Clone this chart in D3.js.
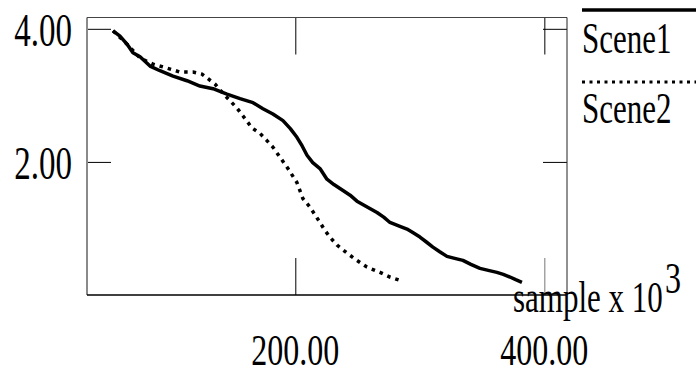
<!DOCTYPE html>
<html>
<head>
<meta charset="utf-8">
<script src="https://cdn.jsdelivr.net/npm/d3@7"></script>
<style>
  html, body { margin: 0; padding: 0; background: #fff; }
  svg { display: block; }
  text { font-family: "Liberation Serif", "Times New Roman", serif; fill: #000; }
</style>
</head>
<body>
<svg id="chart" width="696" height="379"></svg>
<script>
// Sample index (thousands) and measured value for each scene
const scene1X = [53.6, 59.2, 64.8, 69.6, 75.3, 83.3, 91.3, 101.8, 113.0, 123.4, 133.9, 145.1, 155.6, 166.0, 174.0, 182.0, 190.1, 196.0, 201.3, 205.5, 209.4, 214.0, 219.8, 225.4, 231.0, 238.3, 244.0, 249.5, 257.0, 265.6, 271.0, 276.0, 283.0, 289.7, 295.0, 300.1, 305.0, 310.5, 316.0, 321.8, 328.0, 334.6, 341.0, 348.3, 355.0, 361.9, 367.0, 372.4, 377.0, 382.0];
const scene1Y = [3.97, 3.89, 3.77, 3.64, 3.58, 3.44, 3.37, 3.29, 3.22, 3.14, 3.10, 3.02, 2.95, 2.89, 2.80, 2.72, 2.62, 2.50, 2.37, 2.24, 2.10, 1.99, 1.90, 1.74, 1.66, 1.57, 1.50, 1.41, 1.33, 1.24, 1.17, 1.09, 1.04, 0.99, 0.93, 0.87, 0.80, 0.72, 0.65, 0.58, 0.55, 0.52, 0.46, 0.40, 0.37, 0.34, 0.31, 0.27, 0.23, 0.19];

const scene2X = [53.6, 64.8, 75.3, 85.7, 96.9, 107.4, 117.8, 125.0, 129.9, 135.5, 139.5, 147.5, 153.1, 158.0, 165.2, 171.6, 177.2, 182.1, 187.7, 194.1, 201.3, 206.1, 211.8, 219.8, 223.8, 227.8, 233.5, 241.5, 249.5, 257.5, 268.0, 276.0, 285.6];
const scene2Y = [3.97, 3.77, 3.56, 3.47, 3.41, 3.35, 3.35, 3.32, 3.25, 3.17, 3.08, 2.92, 2.81, 2.69, 2.51, 2.43, 2.32, 2.22, 2.07, 1.90, 1.69, 1.45, 1.32, 1.09, 0.97, 0.87, 0.75, 0.63, 0.52, 0.42, 0.34, 0.27, 0.21];

const xTicks = [200, 400];
const yTicks = [2, 4];
const seriesNames = ["Scene1", "Scene2"];
const xTitle = "sample x 10";
const xTitleExp = "3";

const svg = d3.select("#chart");
const plotLeft = 87, plotRight = 567, plotTop = 17.5, plotBottom = 295;

const x = d3.scaleLinear().domain([32.7, 418.2]).range([plotLeft, plotRight]);
const y = d3.scaleLinear().domain([0, 4.17]).range([plotBottom, plotTop]);
const fmt = d3.format(".2f");

// Tall narrow serif lettering
const STRETCH = 1.4;
function label(txt, px, py, anchor, size) {
  return svg.append("text")
    .attr("transform", `translate(${px},${py}) scale(1,${STRETCH})`)
    .attr("text-anchor", anchor)
    .style("font-size", size + "px")
    .text(txt);
}

// Ticks drawn inward from every side of the frame
function tickAxis(axis, tx, ty, color) {
  const g = svg.append("g").attr("transform", `translate(${tx},${ty})`).call(axis);
  g.select(".domain").remove();
  g.selectAll("text").remove();
  g.selectAll("line").attr("stroke", color).attr("stroke-width", 1);
  return g;
}
tickAxis(d3.axisLeft(y).tickValues(yTicks).tickSize(-24), plotLeft, 0, "#000");
tickAxis(d3.axisRight(y).tickValues(yTicks).tickSize(-24), plotRight, 0, "#000");
tickAxis(d3.axisTop(x).tickValues(xTicks).tickSize(-37), 0, plotTop, "#000");
const bx = tickAxis(d3.axisBottom(x).tickValues(xTicks).tickSize(-37), 0, plotBottom, "#000");
bx.selectAll("line").attr("stroke", (d) => d === 400 ? "#777" : "#000");

// Frame
svg.append("line").attr("x1", plotLeft).attr("x2", plotLeft).attr("y1", plotTop).attr("y2", plotBottom)
  .attr("stroke", "#8a8a8a").attr("stroke-width", 2);
svg.append("line").attr("x1", plotLeft).attr("x2", plotRight).attr("y1", plotTop).attr("y2", plotTop)
  .attr("stroke", "#444").attr("stroke-width", 1);
svg.append("line").attr("x1", plotRight).attr("x2", plotRight).attr("y1", plotTop).attr("y2", plotBottom)
  .attr("stroke", "#222").attr("stroke-width", 1);
svg.append("line").attr("x1", plotLeft).attr("x2", plotRight).attr("y1", plotBottom).attr("y2", plotBottom)
  .attr("stroke", "#000").attr("stroke-width", 1.5);

// Curves
const line = d3.line().x(d => x(d[0])).y(d => y(d[1]));
const s1 = scene1X.map((v, i) => [v, scene1Y[i]]);
const s2 = scene2X.map((v, i) => [v, scene2Y[i]]);
svg.append("path").datum(s2).attr("d", line)
  .attr("fill", "none").attr("stroke", "#000").attr("stroke-width", 3.5)
  .attr("stroke-dasharray", "3.5,5");
svg.append("path").datum(s1).attr("d", line)
  .attr("fill", "none").attr("stroke", "#000").attr("stroke-width", 3.5)
  .attr("stroke-linejoin", "round");

// Tick labels
yTicks.forEach(v => label(fmt(v), 72, y(v) + 17, "end", 33));
xTicks.forEach(v => label(fmt(v), x(v), 365, "middle", 32));

// Axis title with exponent
label(xTitle, 513, 312, "start", 31);
label(xTitleExp, 665, 293, "start", 32);

// Legend
svg.append("line").attr("x1", 582).attr("x2", 696).attr("y1", 10).attr("y2", 10)
  .attr("stroke", "#000").attr("stroke-width", 3.5);
svg.append("line").attr("x1", 582).attr("x2", 696).attr("y1", 82).attr("y2", 82)
  .attr("stroke", "#000").attr("stroke-width", 3).attr("stroke-dasharray", "3,4.5");
label(seriesNames[0], 582, 53, "start", 31);
label(seriesNames[1], 582, 123, "start", 31);
</script>
</body>
</html>
